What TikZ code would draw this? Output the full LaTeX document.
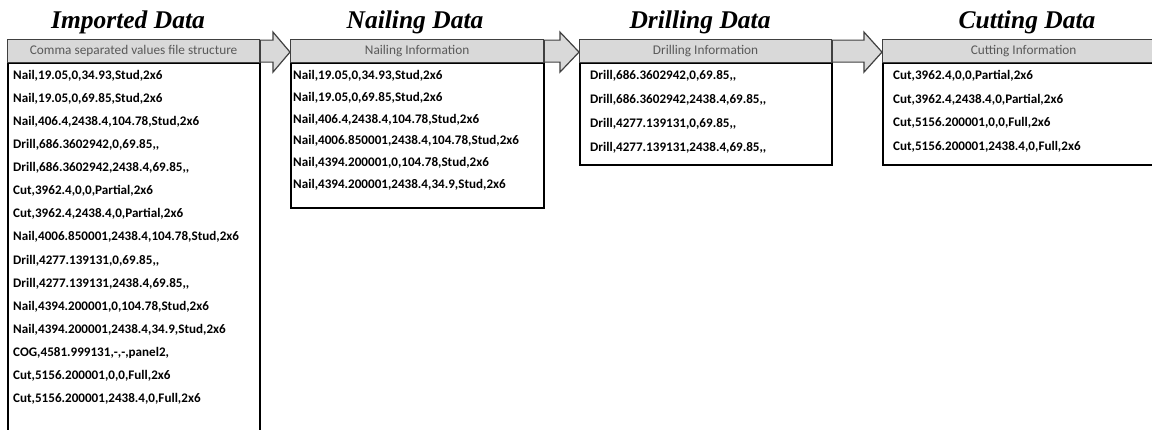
\documentclass[tikz,border=0pt]{standalone}
\usepackage{fontspec}
\setmainfont{Liberation Serif}
\newfontfamily\labelfont{Carlito}
\usetikzlibrary{calc}
\definecolor{headfill}{HTML}{D9D9D9}
\definecolor{headline}{HTML}{404040}
\definecolor{headtext}{HTML}{595959}
% gray block arrow from the right side of one header to the left side of the next
\newcommand\flowarrow[3]{%
  \draw[flow] ($(#1.east)+(0,-11)$) -- ($(#2.west)+(-#3,-11)$) -- ($(#2.west)+(-#3,-19)$)
    -- ($(#2.west)+(0,1)$) -- ($(#2.west)+(-#3,21)$) -- ($(#2.west)+(-#3,11)$)
    -- ($(#1.east)+(0,11)$) -- cycle;}
\begin{document}
\begin{tikzpicture}[x=1pt,y=-1pt,
  title/.style={font=\fontsize{25.5}{30}\selectfont\bfseries\itshape, anchor=base, inner sep=0},
  header/.style={draw=headline, line width=1.2pt, fill=headfill, anchor=north west,
    minimum height=23pt, inner sep=0, font=\labelfont\fontsize{13.3}{15}\selectfont, text=headtext},
  bodybox/.style={draw=black, line width=1.8pt, anchor=north west, inner sep=0},
  entry/.style={anchor=base west, inner sep=0, font=\labelfont\bfseries\fontsize{13.1}{15}\selectfont},
  flow/.style={draw=headline, line width=1.2pt, fill=headfill, line join=miter}]
\useasboundingbox (0,0) rectangle (1152,429);
\clip (0,0) rectangle (1152,429);

% titles
\node[title] (t1) at (128,28) {Imported Data};
\node[title] (t2) at (415,28) {Nailing Data};
\node[title] (t3) at (700,28) {Drilling Data};
\node[title] (t4) at (1027,28) {Cutting Data};

% content boxes
\node[bodybox, minimum width=252pt, minimum height=400pt] (b1) at (7,62) {};
\node[bodybox, minimum width=253pt, minimum height=145pt] (b2) at (290,62) {};
\node[bodybox, minimum width=252pt, minimum height=102pt] (b3) at (579,62) {};
\node[bodybox, minimum width=282pt, minimum height=102pt] (b4) at (882,62) {};

% headers
\node[header, minimum width=252pt] (h1) at (7,39) {Comma separated values file structure};
\node[header, minimum width=253pt] (h2) at (290,39) {Nailing Information};
\node[header, minimum width=252pt] (h3) at (579,39) {Drilling Information};
\node[header, minimum width=282pt] (h4) at (882,39) {Cutting Information};

% arrows between stages
\flowarrow{h1}{h2}{17}
\flowarrow{h2}{h3}{19}
\flowarrow{h3}{h4}{18}

% records
\foreach \t [count=\i] in {{Nail,19.05,0,34.93,Stud,2x6},{Nail,19.05,0,69.85,Stud,2x6},
  {Nail,406.4,2438.4,104.78,Stud,2x6},{Drill,686.3602942,0,69.85,,},
  {Drill,686.3602942,2438.4,69.85,,},{Cut,3962.4,0,0,Partial,2x6},
  {Cut,3962.4,2438.4,0,Partial,2x6},{Nail,4006.850001,2438.4,104.78,Stud,2x6},
  {Drill,4277.139131,0,69.85,,},{Drill,4277.139131,2438.4,69.85,,},
  {Nail,4394.200001,0,104.78,Stud,2x6},{Nail,4394.200001,2438.4,34.9,Stud,2x6},
  {COG,4581.999131,-,-,panel2,},{Cut,5156.200001,0,0,Full,2x6},
  {Cut,5156.200001,2438.4,0,Full,2x6}}
  \node[entry] (ea\i) at (13,{79.5+23.07*(\i-1)}) {\t};

\foreach \t [count=\i] in {{Nail,19.05,0,34.93,Stud,2x6},{Nail,19.05,0,69.85,Stud,2x6},
  {Nail,406.4,2438.4,104.78,Stud,2x6},{Nail,4006.850001,2438.4,104.78,Stud,2x6},
  {Nail,4394.200001,0,104.78,Stud,2x6},{Nail,4394.200001,2438.4,34.9,Stud,2x6}}
  \node[entry] (eb\i) at (293,{79.5+21.8*(\i-1)}) {\t};

\foreach \t [count=\i] in {{Drill,686.3602942,0,69.85,,},{Drill,686.3602942,2438.4,69.85,,},
  {Drill,4277.139131,0,69.85,,},{Drill,4277.139131,2438.4,69.85,,}}
  \node[entry] (ec\i) at (590,{79.5+24*(\i-1)}) {\t};

\foreach \t [count=\i] in {{Cut,3962.4,0,0,Partial,2x6},{Cut,3962.4,2438.4,0,Partial,2x6},
  {Cut,5156.200001,0,0,Full,2x6},{Cut,5156.200001,2438.4,0,Full,2x6}}
  \node[entry] (ed\i) at (893,{79.5+23.7*(\i-1)}) {\t};
\end{tikzpicture}
\end{document}
